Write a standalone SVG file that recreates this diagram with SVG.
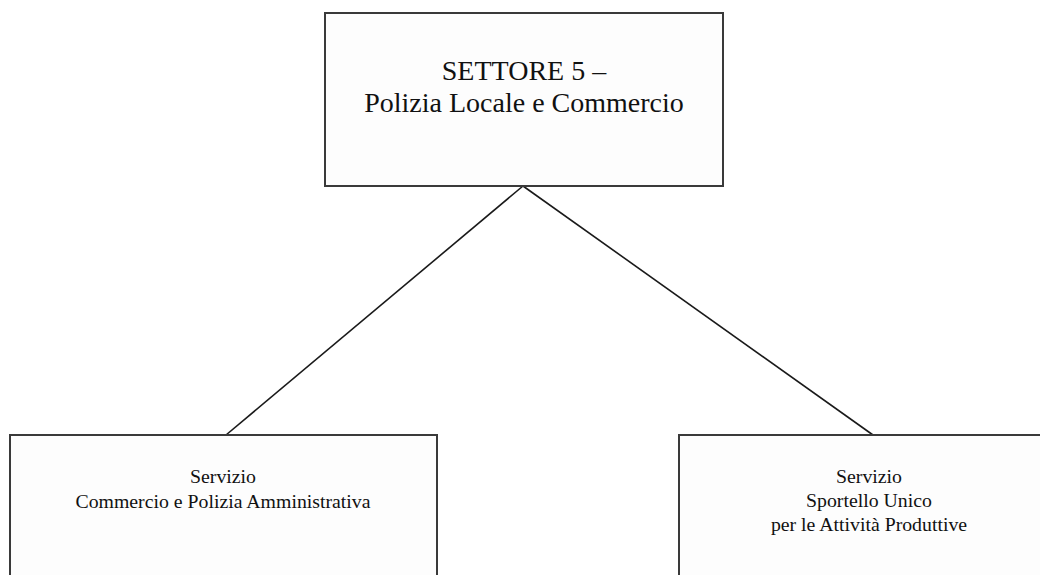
<svg xmlns="http://www.w3.org/2000/svg" width="1040" height="575" viewBox="0 0 1040 575">
<style>
.box{fill:#fdfdfd;stroke:#3a3a3a;stroke-width:2}
.t{font-family:"Liberation Serif","Times New Roman",serif;fill:#111;text-anchor:middle}
.big{font-size:28px}
.sm{font-size:19.8px}
.c{stroke:#1a1a1a;stroke-width:1.6;fill:none}
</style>
<rect width="1040" height="575" fill="#ffffff"/>
<g id="connectors">
<line class="c" x1="523" y1="186" x2="226" y2="435"/>
<line class="c" x1="523" y1="186" x2="873" y2="435"/>
</g>
<g id="settore5">
<rect class="box" x="325" y="13" width="398" height="173"/>
<text class="t big" x="524" y="80">SETTORE 5 –</text>
<text class="t big" x="524" y="112">Polizia Locale e Commercio</text>
</g>
<g id="servizio-commercio">
<rect class="box" x="10" y="435" width="427" height="160"/>
<text class="t sm" x="223" y="483">Servizio</text>
<text class="t sm" x="223" y="508">Commercio e Polizia Amministrativa</text>
</g>
<g id="servizio-suap">
<rect class="box" x="679" y="435" width="381" height="160"/>
<text class="t sm" x="869" y="483">Servizio</text>
<text class="t sm" x="869" y="507">Sportello Unico</text>
<text class="t sm" x="869" y="531">per le Attività Produttive</text>
</g>
</svg>
